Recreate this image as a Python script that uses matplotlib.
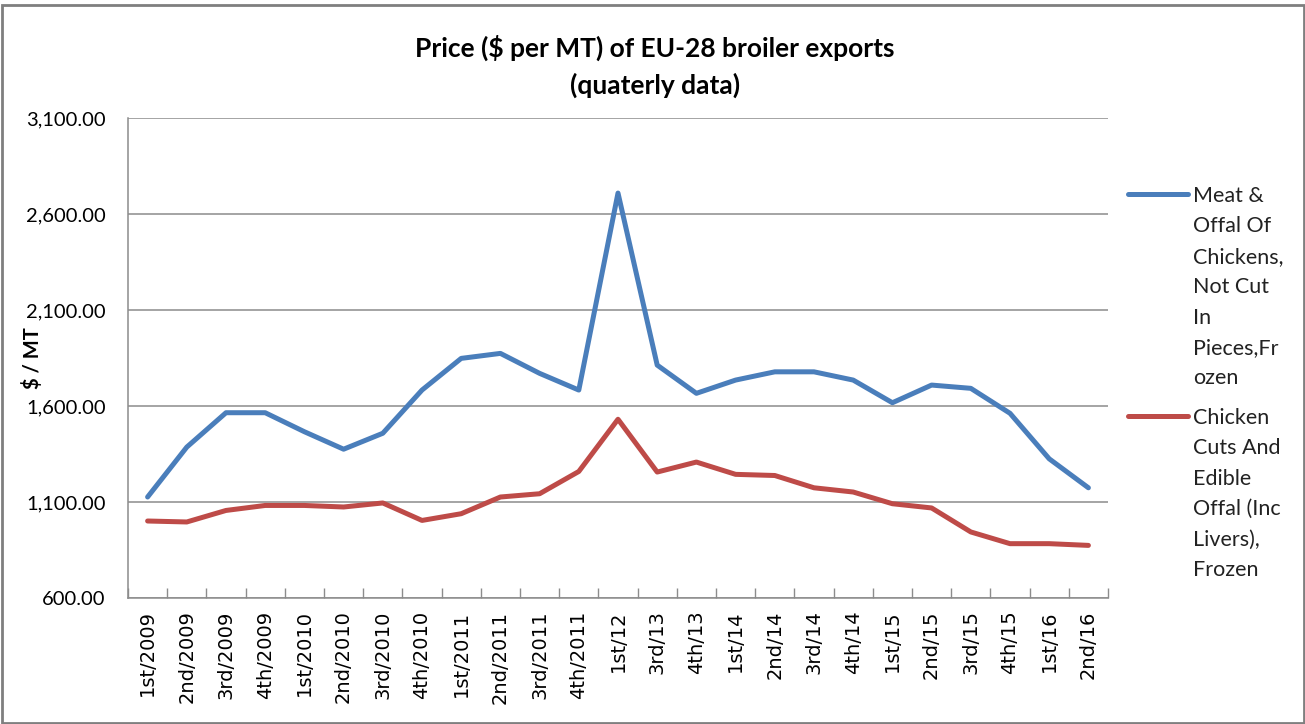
import matplotlib
matplotlib.use("Agg")
import matplotlib.pyplot as plt
from matplotlib.patches import Rectangle
from matplotlib.lines import Line2D
import numpy as np

categories = ["1st/2009", "2nd/2009", "3rd/2009", "4th/2009", "1st/2010", "2nd/2010",
              "3rd/2010", "4th/2010", "1st/2011", "2nd/2011", "3rd/2011", "4th/2011",
              "1st/12", "3rd/13", "4th/13", "1st/14", "2nd/14", "3rd/14", "4th/14",
              "1st/15", "2nd/15", "3rd/15", "4th/15", "1st/16", "2nd/16"]
meat_offal = [1126, 1386, 1565, 1565, 1466, 1375, 1458, 1683, 1848, 1874, 1770, 1683,
              2709, 1813, 1666, 1735, 1778, 1778, 1735, 1617, 1709, 1692, 1562, 1325, 1174]
cuts_offal = [1001, 996, 1056, 1082, 1082, 1074, 1095, 1004, 1039, 1126, 1143, 1259,
              1531, 1256, 1308, 1244, 1238, 1174, 1152, 1091, 1069, 944, 883, 883, 874]
yticks = [600, 1100, 1600, 2100, 2600, 3100]
series_names = ["Meat &\nOffal Of\nChickens,\nNot Cut\nIn\nPieces,Fr\nozen",
                "Chicken\nCuts And\nEdible\nOffal (Inc\nLivers),\nFrozen"]
colors = ["#4A7EBB", "#BE4B48"]

FONT = ["Lato", "DejaVu Sans"]

W, H = 1305, 724
fig = plt.figure(figsize=(W / 100, H / 100), dpi=100)
ax = fig.add_axes([128 / W, 1 - 598 / H, (1108 - 128) / W, (598 - 118) / H])

x = np.arange(len(categories))
ax.plot(x, meat_offal, color=colors[0], lw=3.6, solid_joinstyle="round", solid_capstyle="round")
ax.plot(x, cuts_offal, color=colors[1], lw=3.6, solid_joinstyle="round", solid_capstyle="round")

ax.set_xlim(-0.5, len(categories) - 0.5)
ax.set_ylim(600, 3100)
ax.set_yticks(yticks)
ax.set_yticklabels([f"{v:,.2f}" for v in yticks], fontfamily=FONT, fontsize=14.5)
ax.yaxis.grid(True, color="#8C8C8C", lw=1.1)
ax.set_axisbelow(True)
ax.tick_params(axis="y", length=0, pad=16)

ax.set_xticks(x)
ax.set_xticklabels(categories, rotation=90, fontsize=14, fontfamily="DejaVu Sans")
ax.set_xticks(np.arange(-0.5, len(categories) + 0.5, 1), minor=True)
ax.tick_params(axis="x", which="major", length=0, pad=9)
ax.tick_params(axis="x", which="minor", direction="in", length=7, color="#8C8C8C", width=1)

for s in ["top", "right"]:
    ax.spines[s].set_visible(False)
for s in ["left", "bottom"]:
    ax.spines[s].set_color("#8C8C8C")
    ax.spines[s].set_linewidth(1.1)

fig.text(33 / W, 1 - 358 / H, "$ / MT", rotation=90, ha="center", va="center",
         fontsize=14.5, fontweight="bold", fontfamily=FONT)

fig.text(655 / W, 1 - 48 / H, "Price ($ per MT) of EU-28 broiler exports",
         ha="center", va="center", fontsize=19, fontweight="bold", fontfamily=FONT)
fig.text(655 / W, 1 - 85 / H, "(quaterly data)",
         ha="center", va="center", fontsize=19, fontweight="bold", fontfamily=FONT)

# legend
leg_lines_y = [194, 416]
step = 30.4
for name, col, ly in zip(series_names, colors, leg_lines_y):
    fig.add_artist(Line2D([1128 / W, 1188 / W], [1 - ly / H] * 2,
                          color=col, lw=3.6, solid_capstyle="round",
                          transform=fig.transFigure))
    for i, line in enumerate(name.split("\n")):
        fig.text(1193 / W, 1 - (ly + i * step) / H, line, ha="left", va="center_baseline",
                 fontsize=15.5, fontfamily=FONT, color="#222222")

fig.add_artist(Rectangle((1.5 / W, 1.5 / H), (W - 3) / W, (H - 6) / H,
                         transform=fig.transFigure, fill=False,
                         edgecolor="#7F7F7F", lw=2))

fig.savefig("out.png", dpi=100)
